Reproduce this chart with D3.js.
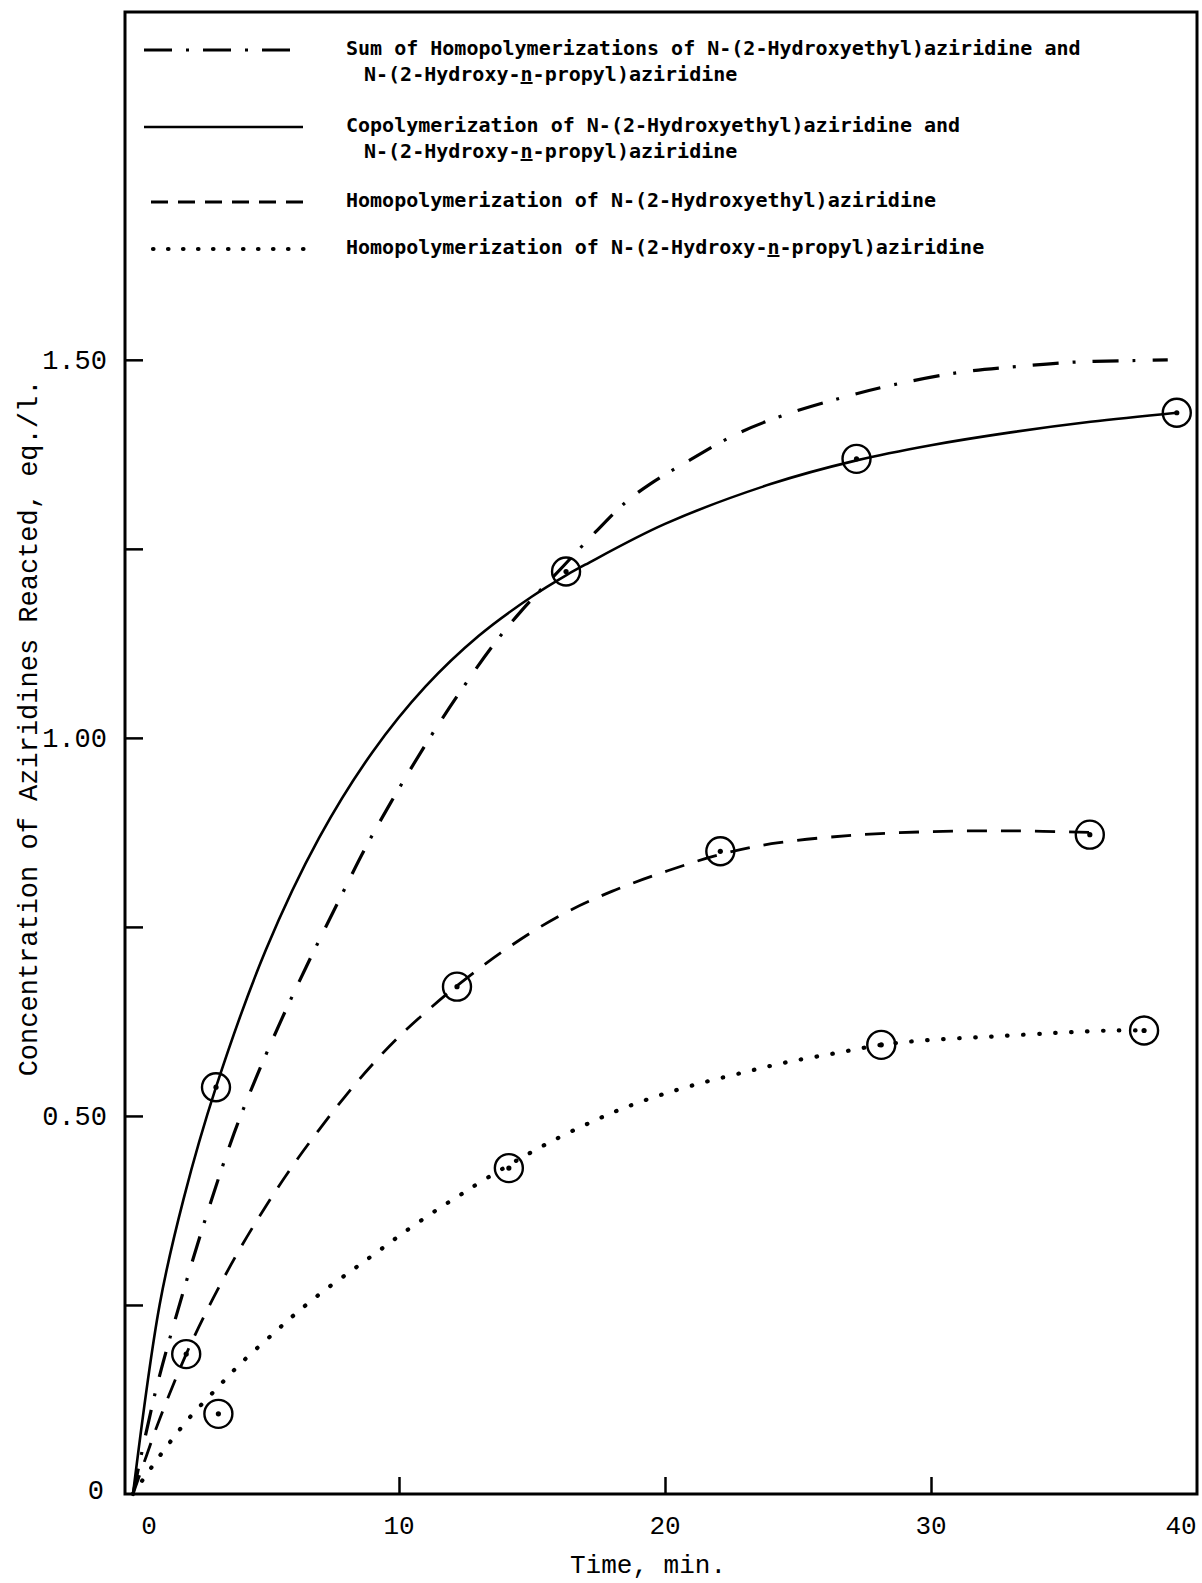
<!DOCTYPE html>
<html>
<head>
<meta charset="utf-8">
<script src="https://cdn.jsdelivr.net/npm/d3@7"></script>
<style>
  html, body { margin: 0; padding: 0; background: #fff; }
</style>
</head>
<body>
<div class="container"></div>
<script>
const w = 1202
const h = 1583

// time (min) / concentration (eq./l.)
const sumTime = [0, 0.83, 1.58, 2.77, 3.8, 4.61, 5.59, 6.51, 7.7, 8.73, 9.7, 11.05, 12.3, 13.53, 14.6, 16.2, 17.38, 18.5, 19.45, 20.96, 22.7, 24.4, 26.66, 28.6, 31.0, 33.2, 35.4, 37.57, 38.9]
const sumConc = [0, 0.133, 0.23, 0.369, 0.477, 0.549, 0.628, 0.697, 0.782, 0.854, 0.915, 0.994, 1.061, 1.122, 1.168, 1.228, 1.272, 1.311, 1.336, 1.368, 1.402, 1.426, 1.45, 1.467, 1.483, 1.491, 1.497, 1.499, 1.5]

const copolyTime = [0, 1, 1.9, 3.12, 5, 7, 9, 11, 13, 15, 16.28, 17, 20, 24, 27.2, 30, 33, 36, 39.24]
const copolyConc = [0, 0.25, 0.39, 0.538, 0.72, 0.868, 0.981, 1.068, 1.135, 1.187, 1.215, 1.229, 1.283, 1.336, 1.367, 1.387, 1.404, 1.418, 1.43]

const ethylTime = [0, 0.5, 1, 2, 3, 4, 5, 6, 7, 8, 9, 10, 12, 14, 16, 18, 20, 22, 24, 27, 30, 33, 35.97]
const ethylConc = [0, 0.05, 0.099, 0.185, 0.258, 0.323, 0.381, 0.434, 0.482, 0.527, 0.568, 0.605, 0.667, 0.72, 0.764, 0.797, 0.823, 0.845, 0.86, 0.871, 0.876, 0.877, 0.875]

const propylTime = [0, 0.57, 1.27, 2.1, 3.08, 4.03, 5.27, 6.13, 7.15, 8.24, 9.14, 10.15, 11.43, 12.37, 12.99, 14.13, 14.82, 15.82, 17.17, 18.35, 19.69, 21.2, 22.89, 24.57, 26.41, 28.13, 29.78, 32.3, 34.82, 36.83, 38.01]
const propylConc = [0, 0.029, 0.063, 0.1, 0.137, 0.172, 0.212, 0.239, 0.268, 0.296, 0.319, 0.345, 0.376, 0.397, 0.411, 0.435, 0.449, 0.468, 0.491, 0.509, 0.526, 0.542, 0.557, 0.571, 0.583, 0.594, 0.6, 0.605, 0.61, 0.613, 0.613]

// measured points (circled)
const copolyPtTime = [3.12, 16.28, 27.2, 39.24]
const copolyPtConc = [0.538, 1.22, 1.369, 1.43]
const ethylPtTime = [2.0, 12.18, 22.08, 35.97]
const ethylPtConc = [0.185, 0.671, 0.85, 0.872]
const propylPtTime = [3.21, 14.13, 28.13, 38.01]
const propylPtConc = [0.106, 0.431, 0.594, 0.613]

const xTicks = [10, 20, 30]
const xLabels = [0, 10, 20, 30, 40]
const yTicks = [0.25, 0.5, 0.75, 1.0, 1.25, 1.5]
const yLabels = [0, 0.5, 1.0, 1.5]

const legendLabels = [
  ["Sum of Homopolymerizations of N-(2-Hydroxyethyl)aziridine and", "N-(2-Hydroxy-|n|-propyl)aziridine"],
  ["Copolymerization of N-(2-Hydroxyethyl)aziridine and", "N-(2-Hydroxy-|n|-propyl)aziridine"],
  ["Homopolymerization of N-(2-Hydroxyethyl)aziridine"],
  ["Homopolymerization of N-(2-Hydroxy-|n|-propyl)aziridine"]
]

const typeFont = "'Liberation Mono', 'DejaVu Sans Mono', monospace"
const legendFont = "'DejaVu Sans Mono', 'Liberation Mono', monospace"

const frame = {left: 125, right: 1197, top: 12, bottom: 1494}

const svg = d3.select(".container")
              .append("svg")
              .attr("width", w)
              .attr("height", h)
              .style("display", "block")
              .style("background", "#fff")

const xScale = d3.scaleLinear()
                 .domain([0, 40])
                 .range([133, frame.right])
const yScale = d3.scaleLinear()
                 .domain([0, 1.96])
                 .range([frame.bottom, frame.top])

// frame / axes lines
svg.append("rect")
    .attr("x", frame.left)
    .attr("y", frame.top)
    .attr("width", frame.right - frame.left)
    .attr("height", frame.bottom - frame.top)
    .attr("fill", "none")
    .attr("stroke", "#000")
    .attr("stroke-width", 3)

const xAxis = d3.axisBottom(xScale)
                .tickValues(xTicks)
                .tickSize(-17)
                .tickFormat("")
svg.append("g")
    .attr("transform", `translate(0, ${frame.bottom})`)
    .call(xAxis)
    .call(g => g.select(".domain").remove())
    .selectAll("line").attr("stroke-width", 2.5)

const yAxis = d3.axisLeft(yScale)
                .tickValues(yTicks)
                .tickSize(-18)
                .tickFormat("")
svg.append("g")
    .attr("transform", `translate(${frame.left}, 0)`)
    .call(yAxis)
    .call(g => g.select(".domain").remove())
    .selectAll("line").attr("stroke-width", 2.5)

svg.selectAll(".xlab")
    .data(xLabels)
    .enter()
    .append("text")
      .attr("class", "xlab")
      .attr("x", d => xScale(d) + (d === 0 ? 16 : d === 40 ? -16 : 0))
      .attr("y", 1534)
      .attr("text-anchor", "middle")
      .style("font-family", typeFont)
      .style("font-size", "26px")
      .text(d => d)

svg.selectAll(".ylab")
    .data(yLabels)
    .enter()
    .append("text")
      .attr("class", "ylab")
      .attr("x", d => d === 0 ? 104 : 107)
      .attr("y", d => yScale(d) + (d === 0 ? 5 : 9))
      .attr("text-anchor", "end")
      .style("font-family", typeFont)
      .style("font-size", "27px")
      .text(d => d === 0 ? "0" : d3.format(".2f")(d))

svg.append("text")
    .attr("x", 648)
    .attr("y", 1573)
    .attr("text-anchor", "middle")
    .style("font-family", typeFont)
    .style("font-size", "26px")
    .text("Time, min.")

svg.append("text")
    .attr("transform", "translate(37, 728) rotate(-90)")
    .attr("text-anchor", "middle")
    .style("font-family", typeFont)
    .style("font-size", "27px")
    .text("Concentration of Aziridines Reacted, eq./l.")

// curves
const line = d3.line()
               .x(d => xScale(d[0]))
               .y(d => yScale(d[1]))
               .curve(d3.curveCatmullRom.alpha(0.5))

const styles = [
  {dash: "26,14,3,17", legendDash: "28,14,3,14", width: 3.2, cap: "butt"},
  {dash: null, legendDash: null, width: 2.6, cap: "butt"},
  {dash: "20,14", legendDash: "17,10", width: 2.8, cap: "butt"},
  {dash: "0.5,15.5", legendDash: "0.5,14.5", width: 4.2, cap: "round"}
]

const curves = [
  d3.zip(sumTime, sumConc),
  d3.zip(copolyTime, copolyConc),
  d3.zip(ethylTime, ethylConc),
  d3.zip(propylTime, propylConc)
]

svg.selectAll(".curve")
    .data(curves)
    .enter()
    .append("path")
      .attr("class", "curve")
      .attr("d", line)
      .attr("fill", "none")
      .attr("stroke", "#000")
      .attr("stroke-width", (d, i) => styles[i].width)
      .attr("stroke-dasharray", (d, i) => styles[i].dash)
      .attr("stroke-linecap", (d, i) => styles[i].cap)

const points = [].concat(
  d3.zip(copolyPtTime, copolyPtConc),
  d3.zip(ethylPtTime, ethylPtConc),
  d3.zip(propylPtTime, propylPtConc)
)

const marks = svg.selectAll(".pt")
    .data(points)
    .enter()
    .append("g")
      .attr("class", "pt")
      .attr("transform", d => `translate(${xScale(d[0])}, ${yScale(d[1])})`)
marks.append("circle")
      .attr("r", 14)
      .attr("fill", "none")
      .attr("stroke", "#000")
      .attr("stroke-width", 2.4)
marks.append("circle")
      .attr("r", 2.6)
      .attr("fill", "#000")

// legend
const legendY = [48, 125, 200, 247]
const legendLine = [[144, 295], [144, 303], [151, 306], [153, 306]]

const legend = svg.append("g")
                  .attr("id", "legend")

legend.selectAll("line")
    .data(styles)
    .enter()
    .append("line")
      .attr("x1", (d, i) => legendLine[i][0])
      .attr("x2", (d, i) => legendLine[i][1])
      .attr("y1", (d, i) => legendY[i] + 2)
      .attr("y2", (d, i) => legendY[i] + 2)
      .attr("stroke", "#000")
      .attr("stroke-width", d => d.width)
      .attr("stroke-dasharray", d => d.legendDash)
      .attr("stroke-linecap", d => d.cap)

legendLabels.forEach((rows, i) => {
  rows.forEach((row, j) => {
    const t = legend.append("text")
                    .attr("x", j === 0 ? 346 : 364)
                    .attr("y", legendY[i] + 7 + j * 26)
                    .style("font-family", legendFont)
                    .style("font-size", "20px")
                    .style("font-weight", "bold")
    row.split("|").forEach((part, k) => {
      t.append("tspan")
        .style("text-decoration", k % 2 ? "underline" : null)
        .text(part)
    })
  })
})
</script>
</body>
</html>
